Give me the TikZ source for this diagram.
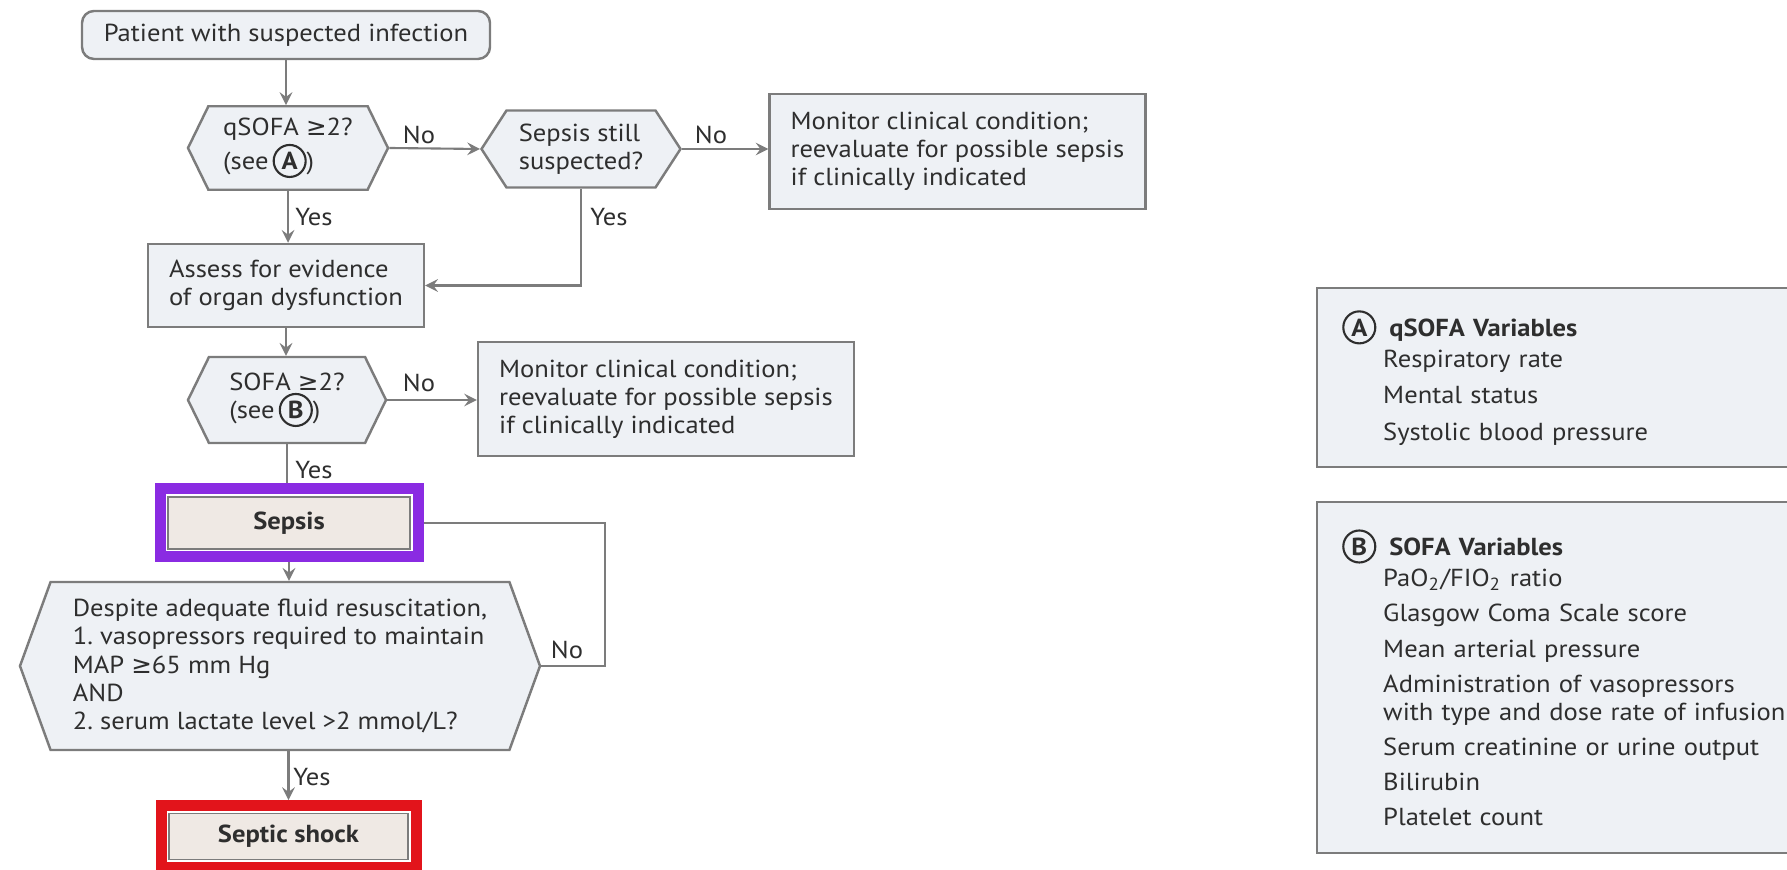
\documentclass[tikz,border=0pt]{standalone}
\usepackage{fontspec}
\setmainfont{PT Sans}[FakeStretch=1.08]
\newfontfamily\symfont{DejaVu Sans}
\usepackage{xcolor}
\usetikzlibrary{shapes.symbols}

\definecolor{boxfill}{HTML}{EEF1F5}
\definecolor{boxline}{HTML}{7C7C7C}
\definecolor{ink}{HTML}{2E2E2E}
\definecolor{sepsisfill}{HTML}{EFE9E4}
\definecolor{sepsisframe}{HTML}{8A2BE2}
\definecolor{shockframe}{HTML}{E2141B}

\newcommand{\circlet}[1]{\tikz[baseline=(let.base)]\node[draw=ink,circle,line width=0.6pt,inner sep=0pt,minimum size=0.32cm](let){\textbf{#1}};}
\newcommand{\geqs}{{\symfont ≥}}

\begin{document}
\frenchspacing
\begin{tikzpicture}[
  font=\fontsize{7}{8}\selectfont, text=ink,
  box/.style={draw=boxline, line width=0.7pt, fill=boxfill, align=left, inner xsep=0.21cm},
  hexbox/.style={shape=signal, signal to=east and west, signal pointer angle=128, draw=boxline, line width=0.7pt, fill=boxfill, align=left},
  framed/.style={draw=boxline, line width=0.5pt, fill=sepsisfill, outer sep=0.135cm,
    preaction={draw=#1, line width=0.27cm}, preaction={draw=white, line width=0.05cm}},
  lbl/.style={inner sep=1pt},
  line/.style={draw=boxline, line width=0.6pt},
  arr/.style={line, -stealth},
  ]
\useasboundingbox (0,0) rectangle (17.87,-8.70);

% main column %
\node[box, rounded corners=0.12cm, minimum width=4.08cm, minimum height=0.48cm, align=center] (start) at (2.86,-0.35) {Patient with suspected infection};
\node[hexbox, minimum width=2.0cm, minimum height=0.82cm] (qsofa) at (2.88,-1.48) {qSOFA \geqs2?\\(see\,\circlet{A})};
\node[hexbox, signal pointer angle=114, minimum width=1.99cm, minimum height=0.77cm] (still) at (5.81,-1.49) {Sepsis still\\suspected?};
\node[box, minimum width=3.70cm, minimum height=1.15cm] (mon1) at (9.575,-1.515) {Monitor clinical condition;\\reevaluate for possible sepsis\\if clinically indicated};
\node[box, minimum width=2.74cm, minimum height=0.83cm] (assess) at (2.86,-2.855) {Assess for evidence\\of organ dysfunction};
\node[hexbox, minimum width=1.98cm, minimum height=0.86cm] (sofa) at (2.87,-4.00) {SOFA \geqs2?\\(see\,\circlet{B})};
\node[box, minimum width=3.68cm, minimum height=1.14cm] (mon2) at (6.66,-3.99) {Monitor clinical condition;\\reevaluate for possible sepsis\\if clinically indicated};
\node[framed=sepsisframe, minimum width=2.42cm, minimum height=0.52cm] (sepsis) at (2.89,-5.23) {\textbf{Sepsis}};
\node[hexbox, signal pointer angle=140, inner xsep=0pt, minimum width=5.20cm, minimum height=1.68cm] (despite) at (2.80,-6.66) {Despite adequate fluid resuscitation,\\1. vasopressors required to maintain\\MAP \geqs65 mm Hg\\AND\\2. serum lactate level >2 mmol/L?};
\node[framed=shockframe, minimum width=2.39cm, minimum height=0.43cm] (shock) at (2.885,-8.365) {\textbf{Septic shock}};

% yes / no labels %
\node[lbl] (no1) at (4.19,-1.35) {No};
\node[lbl] (no2) at (7.11,-1.35) {No};
\node[lbl] (yes1) at (3.14,-2.17) {Yes};
\node[lbl] (yes2) at (6.09,-2.17) {Yes};
\node[lbl] (no3) at (4.19,-3.83) {No};
\node[lbl] (yes3) at (3.14,-4.70) {Yes};
\node[lbl] (no4) at (5.67,-6.50) {No};
\node[lbl] (yes4) at (3.12,-7.77) {Yes};

% connectors %
\draw[arr] (start.south) -- (start.south |- qsofa.north);
\draw[arr] (qsofa.east) -- (still.west);
\draw[arr] (still.east) -- (still.east -| mon1.west);
\draw[arr] (qsofa.south) -- (qsofa.south |- assess.north);
\draw[arr] (still.south) |- (assess.east);
\draw[arr] (assess.south) -- (assess.south |- sofa.north);
\draw[arr] (sofa.east) -- (sofa.east -| mon2.west);
\draw[line] (sofa.south) -- (sofa.south |- sepsis.north);
\draw[arr] (sepsis.south) -- (sepsis.south |- despite.north);
\coordinate (loop) at (6.05,-5.23);
\draw[line] (sepsis.east) -- (loop) |- (despite.east);
\draw[arr] (shock.north |- despite.south) -- (shock.north);

% variable boxes %
\node[box, anchor=north west, inner xsep=0.25cm, text width=4.6cm, minimum width=4.8cm, minimum height=1.79cm] (qvars) at (13.16,-2.87)
  {\circlet{A}\hspace{0.13cm}\textbf{qSOFA Variables}\\[1pt]
   \hspace*{0.41cm}Respiratory rate\\[2.3pt]
   \hspace*{0.41cm}Mental status\\[2.3pt]
   \hspace*{0.41cm}Systolic blood pressure};
\node[box, anchor=north west, inner xsep=0.25cm, text width=4.6cm, minimum width=4.8cm, minimum height=3.51cm] (vars) at (13.16,-5.01)
  {\circlet{B}\hspace{0.13cm}\textbf{SOFA Variables}\\[1pt]
   \hspace*{0.41cm}PaO\textsubscript{2}/FIO\textsubscript{2} ratio\\[2pt]
   \hspace*{0.41cm}Glasgow Coma Scale score\\[2pt]
   \hspace*{0.41cm}Mean arterial pressure\\[2pt]
   \hspace*{0.41cm}Administration of vasopressors\\
   \hspace*{0.41cm}with type and dose rate of infusion\\[2pt]
   \hspace*{0.41cm}Serum creatinine or urine output\\[2pt]
   \hspace*{0.41cm}Bilirubin\\[2pt]
   \hspace*{0.41cm}Platelet count};
\end{tikzpicture}
\end{document}
